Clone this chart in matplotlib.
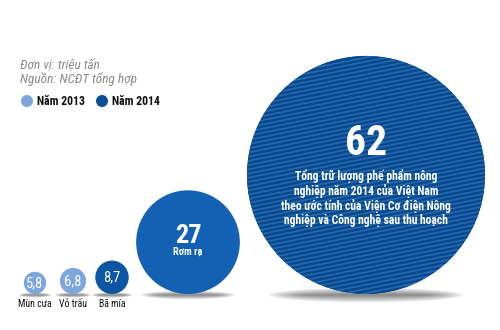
import numpy as np
import matplotlib.pyplot as plt
from matplotlib.patches import Circle, Ellipse
from matplotlib.colors import LinearSegmentedColormap

# values in million tonnes
names = ["Mùn cưa", "Vỏ trấu", "Bã mía", "Rơm rạ", ""]
values = [5.8, 6.8, 8.7, 27, 62]
years = [2013, 2013, 2014, 2014, 2014]
value_labels = ["5,8", "6,8", "8,7", "27", "62"]
legend_years = ["Năm 2013", "Năm 2014"]
note_lines = ["Đơn vị: triệu tấn", "Nguồn: NCĐT tổng hợp"]
big_caption = ("Tổng trữ lượng phế phẩm nông\n"
               "nghiệp năm 2014 của Việt Nam\n"
               "theo ước tính của Viện Cơ điện Nông\n"
               "nghiệp và Công nghệ sau thu hoạch")

# layout in pixel space
centers_x = [35, 73, 112, 188, 366]
baseline = 294
scale = 1.92

LIGHT = "#7ba7dc"
DARK = "#0c55a3"
MID = "#1261b2"
COND = ["Roboto Condensed", "Fira Sans Condensed", "Barlow Condensed", "DejaVu Sans"]

fig = plt.figure(figsize=(5, 3.3), dpi=100)
ax = fig.add_axes([0, 0, 1, 1])
ax.set_xlim(0, 500)
ax.set_ylim(330, 0)
ax.set_aspect("equal")
ax.axis("off")


def shadow(x, r):
    w = 1.5 * r + 16
    h = 4 + 0.09 * r
    for k in range(10):
        f = 1 - k / 10
        ax.add_patch(Ellipse((x, baseline + 1), w * (0.6 + 0.4 * f), h * f,
                             facecolor="#000000", edgecolor="none",
                             alpha=0.055, zorder=1))


for i, (v, x, yr) in enumerate(zip(values, centers_x, years)):
    r = v * scale
    cy = baseline - r
    shadow(x, r)
    if i == len(values) - 1:
        # striped fill for the total
        circ = Circle((x, cy), r, facecolor="#0b4a8e", edgecolor="none", zorder=2)
        ax.add_patch(circ)
        n = 600
        xs = np.linspace(x - r, x + r, n)
        ys = np.linspace(cy - r, cy + r, n)
        gx, gy = np.meshgrid(xs, ys)
        period = 4.2
        pat = 0.5 + 0.5 * np.sin(2 * np.pi * (gy + 0.2 * gx) / period)
        cmap = LinearSegmentedColormap.from_list("st", ["#0a4688", "#2a78c4"])
        im = ax.imshow(pat ** 3, cmap=cmap, extent=(x - r, x + r, cy + r, cy - r),
                       interpolation="bilinear", zorder=3)
        im.set_clip_path(circ)
    else:
        color = LIGHT if yr == 2013 else (DARK if i == 2 else MID)
        ax.add_patch(Circle((x, cy), r, facecolor=color, edgecolor="none", zorder=2))

# values and labels
for i in range(3):
    r = values[i] * scale
    ax.text(centers_x[i], baseline - r + 0.5, value_labels[i], color="white",
            fontsize=10.5, family=COND, ha="center", va="center", zorder=5)
    ax.text(centers_x[i], baseline + 10, names[i], color="#111111",
            fontsize=7, family=COND, ha="center", va="center", zorder=5)

r27 = values[3] * scale
ax.text(centers_x[3], baseline - r27 - 6, value_labels[3], color="white",
        fontsize=19, fontweight="bold", family=COND, ha="center", va="center", zorder=5)
ax.text(centers_x[3], baseline - r27 + 10, names[3], color="white",
        fontsize=7.5, fontweight="bold", family=COND, ha="center", va="center", zorder=5)

r62 = values[4] * scale
cy62 = baseline - r62
ax.text(centers_x[4], cy62 - 31, value_labels[4], color="white",
        fontsize=30, fontweight="bold", family=COND, ha="center", va="center", zorder=5)
ax.text(centers_x[4], cy62 + 23, big_caption, color="white", linespacing=1.1,
        fontsize=8.4, fontweight="bold", family=COND, ha="center", va="center", zorder=5)

# notes and legend
for j, line in enumerate(note_lines):
    ax.text(20, 65 + 14 * j, line, color="#8a8a8a", fontsize=9.5, style="italic",
            family=COND, ha="left", va="center")
for lx, col, lab in [(27, LIGHT, legend_years[0]), (102, "#0a4e98", legend_years[1])]:
    ax.add_patch(Circle((lx, 101), 6, facecolor=col, edgecolor="none"))
    ax.text(lx + 10, 101.5, lab, color="#111111", fontsize=8.5, fontweight="bold",
            family=COND, ha="left", va="center")

fig.savefig("out.png", dpi=100, facecolor="white")
